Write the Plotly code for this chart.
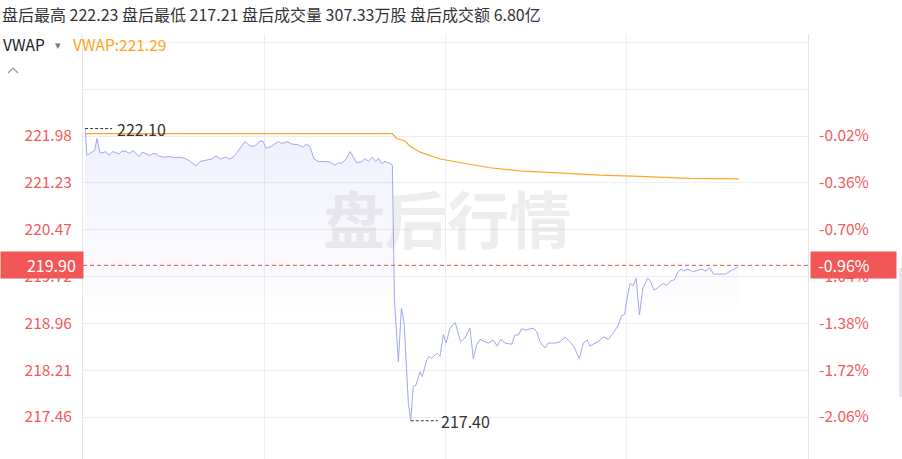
import plotly.graph_objects as go

# ---------------- data ----------------
TIME = [0.7, 1.3, 2.6, 3.9, 4.6, 5.6, 6.6, 7.6, 8.6, 9.9,
        11.0, 11.9, 12.9, 14.2, 15.5, 16.6, 17.6, 18.5, 19.6, 20.8,
        22.1, 23.2, 24.3, 25.4, 27.0, 28.7, 30.4, 32.0, 33.7, 35.3,
        37.4, 38.7, 40.4, 42.6, 44.0, 45.6, 47.0, 48.7, 50.3, 52.0,
        53.6, 55.3, 56.9, 58.6, 59.7, 60.6, 62.5, 64.7, 65.8, 67.6,
        69.1, 71.3, 72.7, 74.0, 75.1, 76.5, 77.9, 80.1, 81.8, 83.4,
        84.5, 85.6, 87.1, 88.4, 89.5, 90.6, 92.3, 93.4, 94.5, 95.8,
        96.9, 97.8, 98.9, 100.0, 101.6, 102.4, 103.1, 104.4, 105.4, 106.3,
        106.9, 107.7, 108.5, 109.3, 110.2, 111.6, 112.3, 113.8, 114.6, 115.4,
        117.1, 118.2, 119.3, 120.2, 121.5, 123.2, 125.0, 126.4, 128.1, 129.2,
        130.3, 131.4, 133.1, 134.2, 135.8, 137.1, 138.3, 139.7, 141.9, 143.0,
        144.1, 145.2, 146.6, 149.0, 150.2, 151.3, 152.9, 154.0, 156.2, 157.9,
        159.5, 161.2, 162.5, 164.3, 165.6, 166.9, 167.8, 169.5, 171.1, 172.2,
        173.9, 175.5, 177.2, 178.3, 179.3, 180.1, 181.1, 182.1, 183.1, 184.2,
        185.3, 186.9, 187.7, 189.1, 190.8, 192.1, 193.2, 194.5, 195.8, 197.0,
        198.0, 198.9, 200.0, 202.0, 203.7, 204.8, 206.2, 207.5, 208.7, 210.8,
        212.8, 214.7, 216.4, 217.2]

PRICE = [222.10, 221.67, 221.71, 221.75, 221.94, 221.71, 221.71, 221.73, 221.67, 221.73,
         221.71, 221.69, 221.74, 221.73, 221.70, 221.75, 221.70, 221.65, 221.72, 221.69,
         221.67, 221.70, 221.69, 221.65, 221.64, 221.65, 221.63, 221.64, 221.62, 221.58,
         221.50, 221.57, 221.59, 221.61, 221.66, 221.61, 221.64, 221.61, 221.67, 221.78,
         221.89, 221.82, 221.82, 221.90, 221.89, 221.78, 221.82, 221.89, 221.86, 221.89,
         221.85, 221.84, 221.80, 221.85, 221.81, 221.61, 221.57, 221.57, 221.56, 221.51,
         221.55, 221.54, 221.61, 221.73, 221.65, 221.55, 221.57, 221.62, 221.57, 221.64,
         221.57, 221.62, 221.54, 221.57, 221.54, 221.51, 219.34, 218.35, 219.21, 218.97,
         218.43, 217.68, 217.40, 217.95, 217.97, 218.19, 218.11, 218.38, 218.44, 218.40,
         218.49, 218.44, 218.79, 218.65, 218.89, 218.98, 218.67, 218.73, 218.89, 218.40,
         218.62, 218.71, 218.67, 218.65, 218.70, 218.60, 218.71, 218.65, 218.63, 218.78,
         218.78, 218.88, 218.86, 218.89, 218.83, 218.67, 218.57, 218.65, 218.65, 218.67,
         218.75, 218.67, 218.59, 218.40, 218.65, 218.70, 218.60, 218.65, 218.69, 218.75,
         218.71, 218.81, 218.94, 219.09, 219.11, 219.37, 219.61, 219.57, 219.69, 219.10,
         219.53, 219.69, 219.66, 219.50, 219.56, 219.61, 219.58, 219.65, 219.67, 219.80,
         219.84, 219.81, 219.84, 219.80, 219.82, 219.84, 219.81, 219.86, 219.76, 219.76,
         219.76, 219.82, 219.86, 219.90]

VWAP_TIME = [0.7, 50.0, 50.6, 97.0, 98.0, 102.4, 103.8, 106.6, 108.2, 111.6,
             118.2, 124.8, 134.7, 144.6, 157.9, 171.1, 184.4, 200.9, 217.2]
VWAP = [222.02, 222.02, 222.01, 222.01, 222.02, 222.02, 221.94, 221.90, 221.82, 221.72,
        221.61, 221.55, 221.47, 221.42, 221.38, 221.35, 221.33, 221.30, 221.29]

PREV_CLOSE = 222.03
LEFT_TICKS = [223.49, 222.735, 221.98, 221.23, 220.47, 219.72, 218.96, 218.21, 217.46]
LEFT_TICK_TEXT = ["", "", "221.98", "221.23", "220.47", "219.72", "218.96", "218.21", "217.46"]
RIGHT_TICK_TEXT = ["", "", "-0.02%", "-0.36%", "-0.70%", "-1.04%", "-1.38%", "-1.72%", "-2.06%"]
X_TICKS = [0, 60, 120, 180, 240]

HEADER = "盘后最高 222.23 盘后最低 217.21 盘后成交量 307.33万股 盘后成交额 6.80亿"
WATERMARK = "盘后行情"

# ---------------- layout geometry ----------------
W, H = 902, 459
L, R, T, B = 83, 808, 34, 459
Y_RANGE = [216.785, 223.621]
FONT = "Noto Sans CJK SC, Noto Sans, sans-serif"
RED = "#f25a5a"
GRID = "#eeeeee"


def px(x):
    return (x - L) / (R - L)


def py(y):
    return (B - y) / (B - T)


last = PRICE[-1]
imax = PRICE.index(max(PRICE))
imin = PRICE.index(min(PRICE))
pct = (last / PREV_CLOSE - 1) * 100

fig = go.Figure()

fig.add_trace(go.Scatter(
    x=TIME, y=PRICE, mode="lines",
    line=dict(color="#a0a8f2", width=1),
    fill="tozeroy",
    fillgradient=dict(type="vertical",
                      colorscale=[[0, "rgba(120,128,235,0)"], [1, "rgba(120,128,235,0.12)"]],
                      start=219.0, stop=222.1),
    hoverinfo="skip", showlegend=False))

fig.add_trace(go.Scatter(
    x=VWAP_TIME, y=VWAP, mode="lines",
    line=dict(color="#ffa726", width=1.2),
    hoverinfo="skip", showlegend=False))

# invisible trace to activate right axis
fig.add_trace(go.Scatter(
    x=TIME, y=PRICE, yaxis="y2", mode="lines",
    line=dict(color="rgba(0,0,0,0)", width=0),
    hoverinfo="skip", showlegend=False))

shapes = [
    dict(type="line", xref="paper", x0=0, x1=1, yref="y", y0=last, y1=last,
         line=dict(color="#e94b4b", width=1, dash="4px,3px")),
    dict(type="line", xref="x", xsizemode="pixel", xanchor=TIME[imax], x0=0, x1=27,
         yref="y", y0=PRICE[imax], y1=PRICE[imax],
         line=dict(color="#333333", width=1, dash="3px,2px")),
    dict(type="line", xref="x", xsizemode="pixel", xanchor=TIME[imin], x0=0, x1=27,
         yref="y", y0=PRICE[imin], y1=PRICE[imin],
         line=dict(color="#333333", width=1, dash="3px,2px")),
    # small collapse chevron
    dict(type="path", xref="paper", yref="paper",
         path=f"M {px(8)},{py(73)} L {px(13)},{py(68)} L {px(18)},{py(73)}",
         line=dict(color="#999999", width=1.2)),
    # window scrollbar hint at far right
    dict(type="rect", xref="paper", yref="paper",
         x0=px(899), x1=px(902), y0=py(397), y1=py(268),
         line=dict(width=0), fillcolor="#e4e6ea"),
]

annotations = [
    dict(text=HEADER, xref="paper", yref="paper", x=px(0), y=py(14),
         xanchor="left", yanchor="middle", showarrow=False,
         font=dict(size=16, color="#333333", family=FONT)),
    dict(text="VWAP", xref="paper", yref="paper", x=px(1), y=py(44),
         xanchor="left", yanchor="middle", showarrow=False,
         font=dict(size=15.5, color="#222222", family=FONT)),
    dict(text="▾", xref="paper", yref="paper", x=px(53), y=py(44),
         xanchor="left", yanchor="middle", showarrow=False,
         font=dict(size=11, color="#777777", family=FONT)),
    dict(text=f"VWAP:{VWAP[-1]:.2f}", xref="paper", yref="paper", x=px(71), y=py(44),
         xanchor="left", yanchor="middle", showarrow=False,
         font=dict(size=15.5, color="#ffa31a", family=FONT)),
    dict(text=f"<b>{WATERMARK}</b>", xref="paper", yref="paper", x=px(447), y=py(217),
         xanchor="center", yanchor="middle", showarrow=False,
         font=dict(size=62, color="rgba(170,170,170,0.2)", family=FONT)),
    dict(text=f"{PRICE[imax]:.2f}", xref="x", yref="y", x=TIME[imax], y=PRICE[imax],
         xanchor="left", yanchor="middle", xshift=30, showarrow=False,
         font=dict(size=16, color="#333333", family=FONT)),
    dict(text=f"{PRICE[imin]:.2f}", xref="x", yref="y", x=TIME[imin], y=PRICE[imin],
         xanchor="left", yanchor="middle", xshift=28, showarrow=False,
         font=dict(size=16, color="#333333", family=FONT)),
    dict(text=f"{last:.2f}&nbsp;&nbsp;", xref="paper", yref="y", x=px(0), y=last,
         xanchor="left", yanchor="middle", showarrow=False, align="right",
         width=82, height=26, borderpad=0, bgcolor="#f25757",
         font=dict(size=16, color="white", family=FONT)),
    dict(text=f"&nbsp;&nbsp;{pct:.2f}%", xref="paper", yref="y", x=px(810), y=last,
         xanchor="left", yanchor="middle", showarrow=False, align="left",
         width=85, height=26, borderpad=0, bgcolor="#f25757",
         font=dict(size=16, color="white", family=FONT)),
]

fig.update_layout(
    width=W, height=H,
    margin=dict(l=L, r=W - R, t=T, b=H - B, pad=0),
    paper_bgcolor="white", plot_bgcolor="white",
    font=dict(family=FONT),
    xaxis=dict(range=[0, 240], tickvals=X_TICKS, showticklabels=False,
               showgrid=True, gridcolor=GRID, gridwidth=1, zeroline=False,
               showline=False, fixedrange=True),
    yaxis=dict(range=Y_RANGE, tickvals=LEFT_TICKS, ticktext=LEFT_TICK_TEXT,
               tickfont=dict(size=15.5, color=RED, family=FONT), ticks="",
               ticklabelstandoff=7,
               showgrid=True, gridcolor=GRID, gridwidth=1, zeroline=False,
               showline=True, linecolor="#e6e6e6", linewidth=1),
    yaxis2=dict(range=Y_RANGE, overlaying="y", side="right",
                tickvals=LEFT_TICKS, ticktext=RIGHT_TICK_TEXT,
                tickfont=dict(size=15.5, color=RED, family=FONT), ticks="",
                ticklabelstandoff=7,
                showgrid=False, zeroline=False,
                showline=True, linecolor="#e6e6e6", linewidth=1),
    shapes=shapes,
    annotations=annotations,
    showlegend=False,
)

fig.write_html("out.html",
               config={"displayModeBar": False},
               post_script="document.body.style.margin='0px';document.body.style.overflow='hidden';")
